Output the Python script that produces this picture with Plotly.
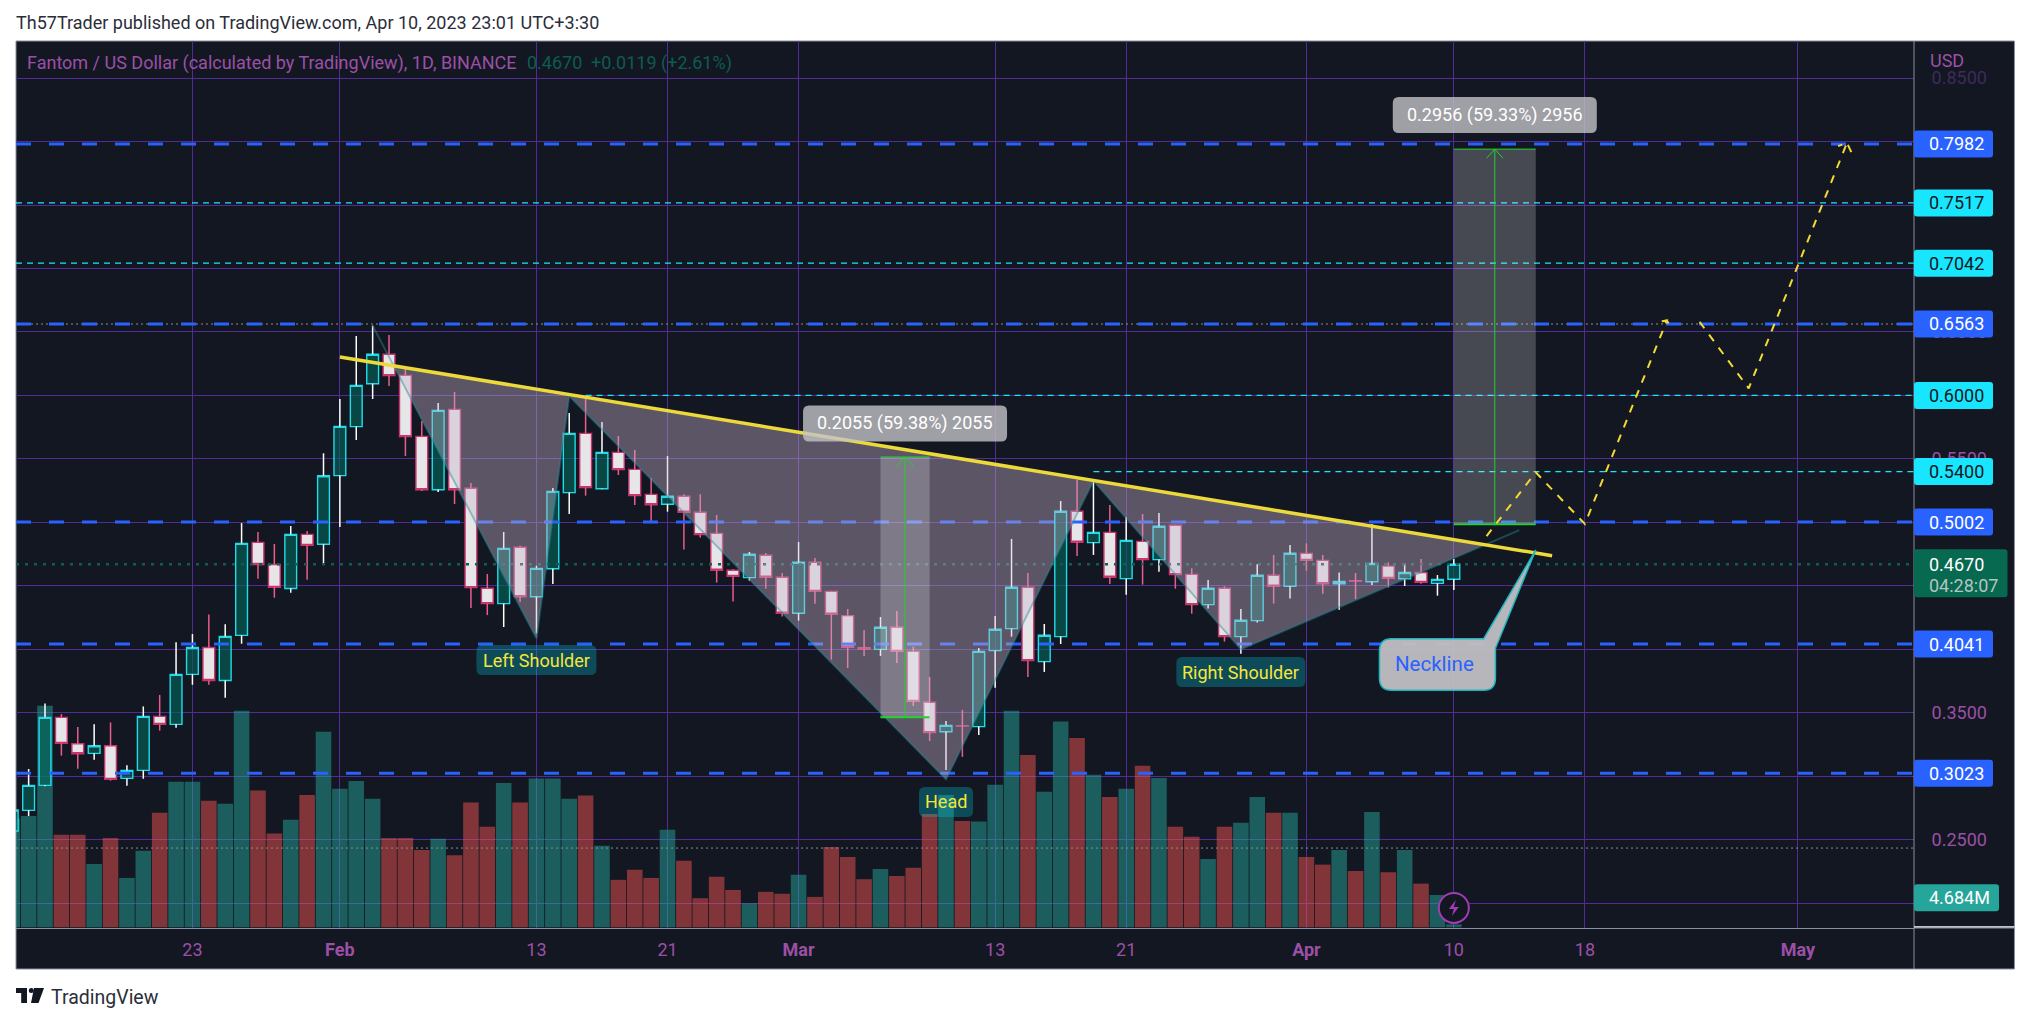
"""Inverse head and shoulders chart for FTM/USD, drawn in the TradingView dark style."""

import pandas as pd
import plotly.graph_objects as go

# daily candles, Jan 12 to Apr 10 2023
OPEN = [
    0.2567, 0.2730, 0.2927, 0.3463, 0.3255, 0.3179, 0.3239, 0.2982, 0.3045, 0.3471,
    0.3408, 0.3802, 0.4014, 0.3754, 0.4109, 0.4842, 0.4668, 0.4479, 0.4905, 0.4827,
    0.5368, 0.5754, 0.6092, 0.6324, 0.6158, 0.5677, 0.5257, 0.5890, 0.5268, 0.4480,
    0.4359, 0.4803, 0.4414, 0.4634, 0.5234, 0.5701, 0.5265, 0.5551, 0.5417, 0.5220,
    0.5142, 0.5205, 0.5079, 0.4913, 0.4622, 0.4564, 0.4740, 0.4567,
    0.4283, 0.4685, 0.4456, 0.4265, 0.4012, 0.3999, 0.4173, 0.3983, 0.3582, 0.3350,
    0.3396, 0.3390, 0.3989, 0.4162, 0.4488, 0.3902, 0.4099, 0.5087, 0.4840, 0.4921,
    0.4556, 0.4850, 0.4706, 0.4977, 0.4590, 0.4351, 0.4480, 0.4099, 0.4225, 0.4583,
    0.4496, 0.4755, 0.4700, 0.4516, 0.4540, 0.4532, 0.4655, 0.4555, 0.4605, 0.4519, 0.4551,
]
HIGH = [
    0.2770, 0.3056, 0.3573, 0.3489, 0.3387, 0.3408, 0.3423, 0.3085, 0.3549, 0.3639,
    0.4054, 0.4119, 0.4274, 0.4196, 0.4994, 0.4923, 0.4829, 0.4971, 0.4931, 0.5544,
    0.5972, 0.6468, 0.6550, 0.6476, 0.6213, 0.5798, 0.5940, 0.6027, 0.5310, 0.4593,
    0.4924, 0.4816, 0.4658, 0.5270, 0.5861, 0.5995, 0.5790, 0.5680, 0.5570, 0.5349,
    0.5523, 0.5221, 0.5221, 0.5058, 0.4630, 0.4766, 0.4758, 0.4601,
    0.4845, 0.4719, 0.4460, 0.4317, 0.4152, 0.4254, 0.4301, 0.4020, 0.3781, 0.3434,
    0.3521, 0.4010, 0.4262, 0.4869, 0.4601, 0.4199, 0.5168, 0.5334, 0.5326, 0.5137,
    0.5042, 0.5066, 0.5074, 0.4980, 0.4638, 0.4546, 0.4496, 0.4317, 0.4669, 0.4743,
    0.4822, 0.4834, 0.4742, 0.4605, 0.4600, 0.4986, 0.4684, 0.4676, 0.4710, 0.4584, 0.4710,
]
LOW = [
    0.2530, 0.2685, 0.2920, 0.3161, 0.3058, 0.3129, 0.2964, 0.2924, 0.2979, 0.3358,
    0.3381, 0.3720, 0.3720, 0.3618, 0.4043, 0.4555, 0.4406, 0.4445, 0.4548, 0.4664,
    0.4963, 0.5649, 0.5972, 0.6074, 0.5522, 0.5247, 0.5239, 0.5144, 0.4325, 0.4269,
    0.4175, 0.4372, 0.4125, 0.4514, 0.5065, 0.5210, 0.5260, 0.5373, 0.5136, 0.5005,
    0.5084, 0.4785, 0.4879, 0.4525, 0.4375, 0.4540, 0.4477, 0.4257,
    0.4225, 0.4359, 0.3918, 0.3852, 0.3947, 0.3947, 0.3892, 0.3553, 0.3277, 0.3048,
    0.3151, 0.3324, 0.3697, 0.4099, 0.3781, 0.3821, 0.4041, 0.4735, 0.4743, 0.4514,
    0.4430, 0.4509, 0.4611, 0.4477, 0.4280, 0.4320, 0.4060, 0.3965, 0.4210, 0.4359,
    0.4399, 0.4619, 0.4437, 0.4311, 0.4395, 0.4506, 0.4485, 0.4498, 0.4516, 0.4422, 0.4466,
]
CLOSE = [
    0.2733, 0.2927, 0.3463, 0.3258, 0.3176, 0.3239, 0.2974, 0.3045, 0.3471, 0.3408,
    0.3802, 0.4014, 0.3754, 0.4101, 0.4834, 0.4668, 0.4487, 0.4905, 0.4818, 0.5367,
    0.5756, 0.6079, 0.6324, 0.6156, 0.5675, 0.5257, 0.5882, 0.5257, 0.4485, 0.4359,
    0.4795, 0.4414, 0.4637, 0.5244, 0.5701, 0.5273, 0.5551, 0.5415, 0.5210, 0.5139,
    0.5205, 0.5079, 0.4903, 0.4622, 0.4574, 0.4748, 0.4567, 0.4283,
    0.4685, 0.4456, 0.4275, 0.4015, 0.3999, 0.4173, 0.3983, 0.3589, 0.3343, 0.3400,
    0.3394, 0.3983, 0.4157, 0.4488, 0.3910, 0.4110, 0.5087, 0.4843, 0.4921, 0.4567,
    0.4858, 0.4706, 0.4969, 0.4588, 0.4351, 0.4480, 0.4099, 0.4228, 0.4583, 0.4496,
    0.4756, 0.4700, 0.4516, 0.4534, 0.4538, 0.4676, 0.4558, 0.4605, 0.4527, 0.4550, 0.4670,
]
# volume in millions
VOLUME = [
    17.2, 17.6, 35.0, 14.6, 14.6, 10.0, 14.1, 7.8, 12.1, 18.1,
    23.0, 23.0, 20.0, 19.5, 34.2, 21.6, 14.8, 17.0, 20.9, 30.9,
    21.9, 23.1, 20.3, 14.1, 14.1, 12.2, 14.0, 11.4, 19.7, 15.9,
    22.8, 19.7, 23.5, 23.5, 20.3, 20.8, 12.9, 7.5, 9.1, 7.8,
    15.4, 10.5, 4.6, 8.0, 5.9, 3.8, 5.6, 5.3,
    8.3, 4.8, 12.7, 11.1, 7.6, 9.2, 8.1, 9.4, 17.9, 20.9,
    16.8, 16.7, 22.5, 34.2, 27.2, 21.4, 32.5, 29.9, 24.1, 20.6,
    21.9, 25.5, 23.6, 15.9, 14.3, 10.8, 15.9, 16.5, 20.6, 18.1,
    18.1, 11.1, 9.9, 12.2, 8.9, 18.2, 8.7, 12.2, 6.9, 5.1, 0.47,
]
DATES = pd.date_range("2023-01-12", periods=len(CLOSE))

TICK_DATES = ["2023-01-23", "2023-02-01", "2023-02-13", "2023-02-21", "2023-03-01", "2023-03-13",
              "2023-03-21", "2023-04-01", "2023-04-10", "2023-04-18", "2023-05-01"]
TICK_TEXT = ["23", "<b>Feb</b>", "13", "21", "<b>Mar</b>", "13", "21", "<b>Apr</b>", "10", "18", "<b>May</b>"]
PRICE_TICKS = [0.20, 0.25, 0.30, 0.35, 0.40, 0.45, 0.50, 0.55, 0.60, 0.65, 0.70, 0.75, 0.80, 0.85]
# ticks whose label is wholly under a price tag in the picture stay blank
PRICE_TEXT = ["", "0.2500", "", "0.3500", "", "", "", "0.5500", "", "0.6500", "", "", "",
              '<span style="color:#3e2a5a">0.8500</span>']

# drawn levels
BLUE_LEVELS = [0.7982, 0.6563, 0.5002, 0.4041, 0.3023]
CYAN_LEVELS = [0.7517, 0.7042]
CYAN_SHORT_LEVELS = [0.6000, 0.5400]
CYAN_SHORT_START = ["2023-02-16", "2023-03-19"]
HIGH_LOW_DOTTED = [0.6563, 0.2433]
LAST_PRICE = 0.4670

# head and shoulders zigzag
PATTERN_DATES = ["2023-02-03", "2023-02-13", "2023-02-15", "2023-03-10", "2023-03-19", "2023-03-28", "2023-04-14"]
PATTERN_PRICES = [0.6550, 0.4086, 0.5995, 0.2975, 0.5328, 0.3999, 0.4939]
# the fills stop at the neckline
FILL1_DATES = ["2023-02-04 07:00", "2023-02-13", "2023-02-15"]
FILL1_PRICES = [0.6230, 0.4086, 0.5995]
FILL2_DATES = ["2023-02-15", "2023-03-10", "2023-03-19"]
FILL2_PRICES = [0.5995, 0.2975, 0.5328]
FILL3_DATES = ["2023-03-19", "2023-03-28", "2023-04-11 22:00"]
FILL3_PRICES = [0.5328, 0.3999, 0.4825]

NECK_DATES = ["2023-02-01", "2023-04-16"]
NECK_PRICES = [0.6303, 0.4737]

# price range tools
RANGE1_DATES = ["2023-03-06", "2023-03-09"]
RANGE1_MID = ["2023-03-07 00:00", "2023-03-07 12:00", "2023-03-08 00:00"]
RANGE1_PRICES = [0.3463, 0.5515]
RANGE2_DATES = ["2023-04-10", "2023-04-15"]
RANGE2_MID = ["2023-04-12 00:00", "2023-04-12 12:00", "2023-04-13 00:00"]
RANGE2_PRICES = [0.4985, 0.7941]

# projected path, arrows included
PATH1_DATES = ["2023-04-12", "2023-04-15", "2023-04-18", "2023-04-23", "2023-04-22 11:00", "2023-04-23",
               "2023-04-23 06:00"]
PATH1_PRICES = [0.4892, 0.5394, 0.4987, 0.6589, 0.6580, 0.6589, 0.6541]
PATH2_DATES = ["2023-04-25", "2023-04-28", "2023-05-04", "2023-05-03 11:00", "2023-05-04", "2023-05-04 07:00"]
PATH2_PRICES = [0.6580, 0.6056, 0.7990, 0.7965, 0.7990, 0.7910]

BG = "#131722"
GRID = "#512c98"
AXIS_LINE = "#8b8da0"
PURPLE = "#9b50a6"
FONT = "Roboto"
TEXT_SIZE = 18

# plot box in page pixels
L, R, T, B = 15.6, 1914.5, 41.0, 928.0
W, H = 2031, 1023


def px(x):
    return (x - L) / (R - L)


def py(y):
    return (B - y) / (B - T)


def rounded(x0, y0, x1, y1, r):
    """SVG path of a rounded rectangle, in pixels round its anchor."""
    return (
        f"M{x0 + r},{y0} L{x1 - r},{y0} Q{x1},{y0} {x1},{y0 + r} L{x1},{y1 - r} Q{x1},{y1} {x1 - r},{y1} "
        f"L{x0 + r},{y1} Q{x0},{y1} {x0},{y1 - r} L{x0},{y0 + r} Q{x0},{y0} {x0 + r},{y0} Z"
    )


def tag(x, y, w, h, fill, xref="x", x0=None, r=6):
    """Rounded box anchored on a date (or paper x) and a price."""
    left = -w / 2 if x0 is None else x0
    return {
        "type": "path", "layer": "above", "xref": xref, "yref": "y2", "xsizemode": "pixel", "ysizemode": "pixel",
        "xanchor": x, "yanchor": y, "path": rounded(left, -h / 2, left + w, h / 2, r),
        "fillcolor": fill, "line": {"width": 0},
    }


def label(text, x, y, color, size=TEXT_SIZE, xref="x", yref="y2", anchor="center", xshift=0, yshift=0, align=None):
    return {
        "text": text, "x": x, "y": y, "xref": xref, "yref": yref, "xanchor": anchor, "yanchor": "middle",
        "showarrow": False, "font": {"family": FONT, "size": size, "color": color},
        "xshift": xshift, "yshift": yshift, "align": align or anchor,
    }


fig = go.Figure()

# volume sits on the base axis so that the candles overlay it
vol_colors = ["rgba(38,166,154,0.5)" if c >= o else "rgba(239,83,80,0.5)" for o, c in zip(OPEN, CLOSE)]
fig.add_trace(go.Bar(x=DATES, y=VOLUME, marker={"color": vol_colors, "line": {"width": 0}}, yaxis="y", hoverinfo="skip"))

# candle bodies, wicks come apart because they have another colour than the border
fig.add_trace(go.Candlestick(
    x=DATES, open=OPEN, close=CLOSE,
    high=[max(o, c) for o, c in zip(OPEN, CLOSE)],
    low=[min(o, c) for o, c in zip(OPEN, CLOSE)],
    increasing={"line": {"color": "#22dbe8", "width": 1.4}, "fillcolor": "rgba(2,103,92,0.6)"},
    decreasing={"line": {"color": "#c9346d", "width": 1.4}, "fillcolor": "#e6e6e8"},
    yaxis="y2", hoverinfo="skip",
))

for is_up, color in [(True, "#ffffff"), (False, "#ea5c8c")]:
    wx, wy = [], []
    for d, o, h, l, c in zip(DATES, OPEN, HIGH, LOW, CLOSE):
        if (c >= o) == is_up:
            wx += [d, d, None, d, d, None]
            wy += [h, max(o, c), None, min(o, c), l, None]
    fig.add_trace(go.Scatter(x=wx, y=wy, mode="lines", line={"color": color, "width": 1.5}, yaxis="y2", hoverinfo="skip"))


def add_line(x, y, color, width, dash="solid"):
    fig.add_trace(go.Scatter(x=x, y=y, mode="lines", line={"color": color, "width": width, "dash": dash},
                             yaxis="y2", hoverinfo="skip"))


X_LEFT, X_RIGHT = "2023-01-12 05:30", "2023-05-08 02:10"

add_line([X_LEFT, X_RIGHT], [LAST_PRICE, LAST_PRICE], "#0f5d55", 2.5, "3px,6px")
for level in HIGH_LOW_DOTTED:
    add_line([X_LEFT, X_RIGHT], [level, level], "#8c8c96", 1, "2px,3px")
for level in CYAN_LEVELS:
    add_line([X_LEFT, X_RIGHT], [level, level], "#18e6ff", 1.3, "6px,5px")
for level, start in zip(CYAN_SHORT_LEVELS, CYAN_SHORT_START):
    add_line([start, X_RIGHT], [level, level], "#18e6ff", 1.3, "6px,5px")
for level in BLUE_LEVELS:
    add_line([X_LEFT, X_RIGHT], [level, level], "#2962ff", 3, "15px,18px")

# the three filled triangles of the pattern and its zigzag
for fill_x, fill_y in [(FILL1_DATES, FILL1_PRICES), (FILL2_DATES, FILL2_PRICES), (FILL3_DATES, FILL3_PRICES)]:
    fig.add_trace(go.Scatter(
        x=fill_x, y=fill_y, mode="lines", fill="toself",
        fillcolor="rgba(200,180,205,0.4)", line={"width": 0}, yaxis="y2", hoverinfo="skip",
    ))
add_line(PATTERN_DATES, PATTERN_PRICES, "rgba(40,140,150,0.45)", 2)

add_line(NECK_DATES, NECK_PRICES, "#ecd93a", 3.5)

# price range tools
for dates, mid, prices in [(RANGE1_DATES, RANGE1_MID, RANGE1_PRICES), (RANGE2_DATES, RANGE2_MID, RANGE2_PRICES)]:
    lo, hi = prices
    fig.add_trace(go.Scatter(
        x=[dates[0], dates[1], dates[1], dates[0]], y=[lo, lo, hi, hi], mode="lines", fill="toself",
        fillcolor="rgba(255,255,255,0.22)", line={"width": 0}, yaxis="y2", hoverinfo="skip",
    ))
    add_line(dates, [lo, lo], "#22d42c", 2)
    add_line(dates, [hi, hi], "#22d42c", 1)
    add_line([mid[1], mid[1]], [lo, hi], "#22d42c", 1)
    add_line(mid, [hi - 0.0072, hi, hi - 0.0072], "#22d42c", 1)

add_line(PATH1_DATES, PATH1_PRICES, "#f5d933", 2, "8px,8px")
add_line(PATH2_DATES, PATH2_PRICES, "#f5d933", 2, "8px,8px")

# --- layout furniture ---
shapes = [
    # dark frame behind the plot, axis columns included
    {"type": "rect", "layer": "below", "xref": "paper", "yref": "paper", "x0": 0, "x1": px(2015), "y0": py(969), "y1": 1,
     "fillcolor": BG, "line": {"color": AXIS_LINE, "width": 1}},
    {"type": "line", "xref": "paper", "yref": "paper", "x0": 1, "x1": 1, "y0": py(969), "y1": 1,
     "line": {"color": AXIS_LINE, "width": 1}},
    {"type": "line", "xref": "paper", "yref": "paper", "x0": 1, "x1": px(2015), "y0": py(927), "y1": py(927),
     "line": {"color": "#ffffff", "width": 1.5}},
    {"type": "line", "xref": "paper", "yref": "paper", "x0": 1, "x1": px(2015), "y0": 0, "y1": 0,
     "line": {"color": AXIS_LINE, "width": 1}},
]
annotations = []

# price tags on the axis
PRICE_TAGS = [
    ("0.7982", 0.7982, "#2962ff", "#ffffff"), ("0.7517", 0.7517, "#18e6ff", "#131722"),
    ("0.7042", 0.7042, "#18e6ff", "#131722"), ("0.6563", 0.6563, "#2962ff", "#ffffff"),
    ("0.6000", 0.6000, "#18e6ff", "#131722"), ("0.5400", 0.5400, "#18e6ff", "#131722"),
    ("0.5002", 0.5002, "#2962ff", "#ffffff"), ("0.4041", 0.4041, "#2962ff", "#ffffff"),
    ("0.3023", 0.3023, "#2962ff", "#ffffff"),
]
for text, value, fill, color in PRICE_TAGS:
    shapes.append(tag(1, value, 79, 27, fill, xref="paper", x0=0, r=3))
    annotations.append(label(text, 1, value, color, xref="paper", anchor="left", xshift=13))

# last price tag with the countdown
shapes.append(tag(1, LAST_PRICE - 0.0072, 93.5, 48, "#07694f", xref="paper", x0=0, r=3))
annotations.append(label("0.4670", 1, LAST_PRICE, "#ffffff", xref="paper", anchor="left", xshift=13))
annotations.append(label("04:28:07", 1, LAST_PRICE, "#b4c4c2", xref="paper", anchor="left", xshift=13, yshift=-21))

# last volume tag
shapes.append({
    "type": "path", "layer": "above", "xref": "paper", "yref": "y", "xsizemode": "pixel", "ysizemode": "pixel",
    "xanchor": 1, "yanchor": 4.684, "path": rounded(0, -13.5, 85, 13.5, 3), "fillcolor": "#26a69a", "line": {"width": 0},
})
annotations.append(label("4.684M", 1, 4.684, "#ffffff", xref="paper", yref="y", anchor="left", xshift=13))

# pattern labels, boxes see through like the original
LABEL_FILL = "rgba(2,196,220,0.3)"
PATTERN_LABELS = [
    ("Left Shoulder", "2023-02-13", 0.3915, 120, 30),
    ("Head", "2023-03-10", 0.2796, 54, 30),
    ("Right Shoulder", "2023-03-28", 0.3820, 129, 30),
]
for text, date, price, w, h in PATTERN_LABELS:
    shapes.append(tag(date, price, w, h, LABEL_FILL))
    annotations.append(label(text, date, price, "#f5e63c"))

# tool read-outs
TOOL_LABELS = [
    ("0.2055 (59.38%) 2055", "2023-03-07 12:00", 0.5779),
    ("0.2956 (59.33%) 2956", "2023-04-12 12:00", 0.8210),
]
for text, date, price in TOOL_LABELS:
    shapes.append(tag(date, price, 204, 36, "rgba(195,195,200,0.8)"))
    annotations.append(label(text, date, price, "#ffffff"))

# neckline callout, anchored on its tip
shapes.append({
    "type": "path", "layer": "above", "xref": "x", "yref": "y2", "xsizemode": "pixel", "ysizemode": "pixel",
    "xanchor": "2023-04-15", "yanchor": 0.4782,
    "path": "M-52,-88.7 L0,0 L-40.3,-98.3 L-40.3,-128 Q-40.3,-140.3 -52,-140.3 L-144,-140.3 Q-156.3,-140.3 -156.3,-128 "
            "L-156.3,-101 Q-156.3,-88.7 -144,-88.7 Z",
    "fillcolor": "rgba(192,192,196,0.95)", "line": {"color": "#1fb5c0", "width": 1.5},
})
annotations.append(label("Neckline", "2023-04-08 19:00", 0.3883, "#2962ff", size=20.5))

# lightning badge on the last bar
shapes.append({"type": "circle", "layer": "above", "xref": "x", "yref": "y2", "xsizemode": "pixel", "ysizemode": "pixel",
               "xanchor": "2023-04-10", "yanchor": 0.1961, "x0": -15, "x1": 15, "y0": -15, "y1": 15,
               "fillcolor": BG, "line": {"color": "#a23bb5", "width": 2}})
shapes.append({"type": "path", "layer": "above", "xref": "x", "yref": "y2", "xsizemode": "pixel", "ysizemode": "pixel",
               "xanchor": "2023-04-10", "yanchor": 0.1961, "path": "M2,8 L-5,-1 L0,-1 L-2,-8 L5,1 L0,1 Z",
               "fillcolor": "#a23bb5", "line": {"width": 0}})

# TradingView mark under the chart
LOGO_PATHS = ["M0,-60 L11,-60 L11,-75 L5.2,-75 L5.2,-65 L0,-65 Z", "M18,-60 L28,-60 L22.5,-75 L15,-75 Z"]
for path in LOGO_PATHS:
    shapes.append({"type": "path", "xref": "paper", "yref": "paper", "xsizemode": "pixel", "ysizemode": "pixel",
                   "xanchor": 0, "yanchor": 0, "path": path, "fillcolor": BG, "line": {"width": 0}})
shapes.append({"type": "circle", "xref": "paper", "yref": "paper", "xsizemode": "pixel", "ysizemode": "pixel",
               "xanchor": 0, "yanchor": 0, "x0": 12.8, "x1": 17.8, "y0": -65, "y1": -60,
               "fillcolor": BG, "line": {"width": 0}})

annotations += [
    label("Th57Trader published on TradingView.com, Apr 10, 2023 23:01 UTC+3:30", px(13.5), py(22.5), "#2a2e39",
          xref="paper", yref="paper", anchor="left"),
    label("TradingView", px(49), py(997), "#2a2e39", size=19.5, xref="paper", yref="paper", anchor="left"),
    label("Fantom / US Dollar (calculated by TradingView), 1D, BINANCE", px(25), py(63), PURPLE,
          xref="paper", yref="paper", anchor="left"),
    label("0.4670", px(525), py(63), "#0b5d50", xref="paper", yref="paper", anchor="left"),
    label("+0.0119 (+2.61%)", px(588.5), py(63), "#0b5d50", xref="paper", yref="paper", anchor="left"),
    label("USD", px(1928.5), py(61), PURPLE, xref="paper", yref="paper", anchor="left"),
]

fig.update_layout(
    width=W, height=H, autosize=False,
    margin={"l": L, "r": W - R, "t": T, "b": H - B, "pad": 0},
    paper_bgcolor="#ffffff", plot_bgcolor=BG,
    showlegend=False, bargap=0.05, boxgap=0.28, boxgroupgap=0,
    font={"family": FONT, "size": TEXT_SIZE, "color": PURPLE},
    xaxis={
        "type": "date", "range": [X_LEFT, X_RIGHT], "rangeslider": {"visible": False},
        "tickmode": "array", "tickvals": TICK_DATES, "ticktext": TICK_TEXT,
        "showgrid": True, "gridcolor": GRID, "gridwidth": 1, "zeroline": False,
        "ticks": "outside", "ticklen": 5, "tickcolor": "rgba(0,0,0,0)", "tickangle": 0,
        "tickfont": {"family": FONT, "size": TEXT_SIZE, "color": PURPLE},
        "showline": True, "linecolor": AXIS_LINE, "linewidth": 1,
    },
    yaxis={"range": [-0.11, 140.0], "visible": False, "showgrid": False, "zeroline": False},
    yaxis2={
        "range": [0.1803, 0.8793], "overlaying": "y", "side": "right", "anchor": "x",
        "tickmode": "array", "tickvals": PRICE_TICKS, "ticktext": PRICE_TEXT,
        "showgrid": True, "gridcolor": GRID, "gridwidth": 1, "zeroline": False,
        "ticks": "outside", "ticklen": 13, "tickcolor": "rgba(0,0,0,0)",
        "tickfont": {"family": FONT, "size": TEXT_SIZE, "color": PURPLE},
        "showline": False,
    },
    shapes=shapes, annotations=annotations,
)

fig.write_html(
    "out.html",
    config={"displayModeBar": False},
    post_script="document.body.style.margin='0';document.body.style.overflow='hidden';",
)
